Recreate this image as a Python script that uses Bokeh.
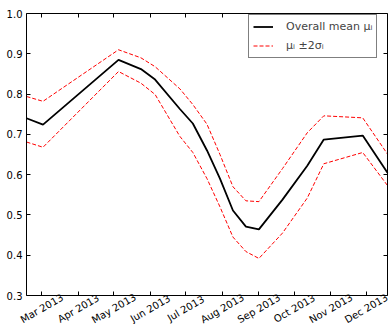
from datetime import datetime
from bokeh.plotting import figure
from bokeh.models import (Range1d, FixedTicker, LinearAxis, Legend, LegendItem,
                          NumeralTickFormatter, Label, BoxAnnotation)
from bokeh.embed import file_html
from bokeh.resources import INLINE

dates = ["2013-02-16", "2013-03-02", "2013-05-05", "2013-05-24", "2013-06-05",
         "2013-06-26", "2013-07-07", "2013-07-19", "2013-07-30", "2013-08-10",
         "2013-08-21", "2013-09-01", "2013-09-21", "2013-10-12", "2013-10-26",
         "2013-11-28", "2013-12-19"]
mean = [0.740, 0.724, 0.885, 0.862, 0.836, 0.763, 0.727, 0.660, 0.590, 0.511,
        0.471, 0.464, 0.538, 0.622, 0.687, 0.697, 0.605]
upper = [0.794, 0.782, 0.910, 0.890, 0.868, 0.813, 0.774, 0.725, 0.650, 0.570,
         0.535, 0.533, 0.615, 0.704, 0.746, 0.741, 0.651]
lower = [0.681, 0.668, 0.856, 0.827, 0.799, 0.695, 0.655, 0.590, 0.520, 0.445,
         0.409, 0.392, 0.455, 0.542, 0.627, 0.655, 0.573]

tick_dates = ["2013-03-01", "2013-04-01", "2013-05-01", "2013-06-01", "2013-07-01",
              "2013-08-01", "2013-09-01", "2013-10-01", "2013-11-01", "2013-12-01"]
tick_labels = ["Mar 2013", "Apr 2013", "May 2013", "Jun 2013", "Jul 2013",
               "Aug 2013", "Sep 2013", "Oct 2013", "Nov 2013", "Dec 2013"]
y_ticks = [0.3, 0.4, 0.5, 0.6, 0.7, 0.8, 0.9, 1.0]
Y0, Y1 = 0.3, 1.0

EPOCH = datetime(1970, 1, 1)
def ms(s):
    return (datetime.strptime(s, "%Y-%m-%d") - EPOCH).total_seconds() * 1000.0

x = [ms(d) for d in dates]
xt = [ms(d) for d in tick_dates]
X0, X1 = x[0], x[-1]
FONT = "DejaVu Sans"

# page geometry (pixels): the axes box sits inside a frame that fills the canvas,
# so the rotated month labels below it are not clipped
W, H = 389, 324
BOX_L, BOX_R, BOX_T, BOX_B = 26, 387, 13, 295
mpp = (X1 - X0) / (BOX_R - BOX_L)
upp = (Y1 - Y0) / (BOX_B - BOX_T)

p = figure(width=W, height=H, output_backend="svg", toolbar_location=None,
           x_axis_location=None, y_axis_location=None,
           x_range=Range1d(X0 - BOX_L * mpp, X1 + (W - BOX_R) * mpp),
           y_range=Range1d(Y0 - (H - BOX_B) * upp, Y1 + BOX_T * upp),
           min_border_left=0, min_border_right=0, min_border_top=0, min_border_bottom=0)
p.background_fill_color = "white"
p.border_fill_color = "white"
p.outline_line_color = None
p.xgrid.visible = False
p.ygrid.visible = False

hidden = dict(major_label_text_color=None, major_label_text_font_size="1px",
              major_label_standoff=0)
common = dict(major_tick_in=4, major_tick_out=0, minor_tick_line_color=None,
              axis_line_color=None, major_tick_line_color="black")

left = LinearAxis(fixed_location=X0, ticker=FixedTicker(ticks=y_ticks),
                  formatter=NumeralTickFormatter(format="0.0"),
                  major_label_standoff=4, major_label_text_font=FONT,
                  major_label_text_font_size="10px", major_label_text_color="black",
                  **common)
right = LinearAxis(fixed_location=X1, ticker=FixedTicker(ticks=y_ticks), **hidden, **common)
bottom = LinearAxis(fixed_location=Y0, ticker=FixedTicker(ticks=xt), **hidden, **common)
top = LinearAxis(fixed_location=Y1, ticker=FixedTicker(ticks=xt), **hidden, **common)
p.add_layout(left, "left")
p.add_layout(right, "right")
p.add_layout(bottom, "below")
p.add_layout(top, "above")

p.add_layout(BoxAnnotation(left=X0, right=X1, bottom=Y0, top=Y1, fill_alpha=0,
                           line_color="black", line_width=1, line_alpha=1))

for t, lab in zip(xt, tick_labels):
    p.add_layout(Label(x=t, y=Y0, y_offset=-13, text=lab, angle=30, angle_units="deg",
                       text_align="center", text_baseline="middle", text_font=FONT,
                       text_font_size="10px", text_color="black"))

r_mean = p.line(x, mean, line_color="black", line_width=1.8)
r_up = p.line(x, upper, line_color="#ff0000", line_width=1, line_dash="4 2")
r_lo = p.line(x, lower, line_color="#ff0000", line_width=1, line_dash="4 2")

legend = Legend(items=[LegendItem(label="Overall mean μᵢ", renderers=[r_mean]),
                       LegendItem(label="μᵢ ±2σᵢ", renderers=[r_up])],
                location=(248, H - 58), margin=0, padding=4, spacing=4,
                glyph_width=20, glyph_height=15, label_height=15, label_standoff=13,
                label_text_font=FONT, label_text_font_size="11px",
                border_line_color="black", border_line_width=1,
                background_fill_color="white", background_fill_alpha=1)
p.add_layout(legend)

open("out.html", "w").write(file_html(p, INLINE))
